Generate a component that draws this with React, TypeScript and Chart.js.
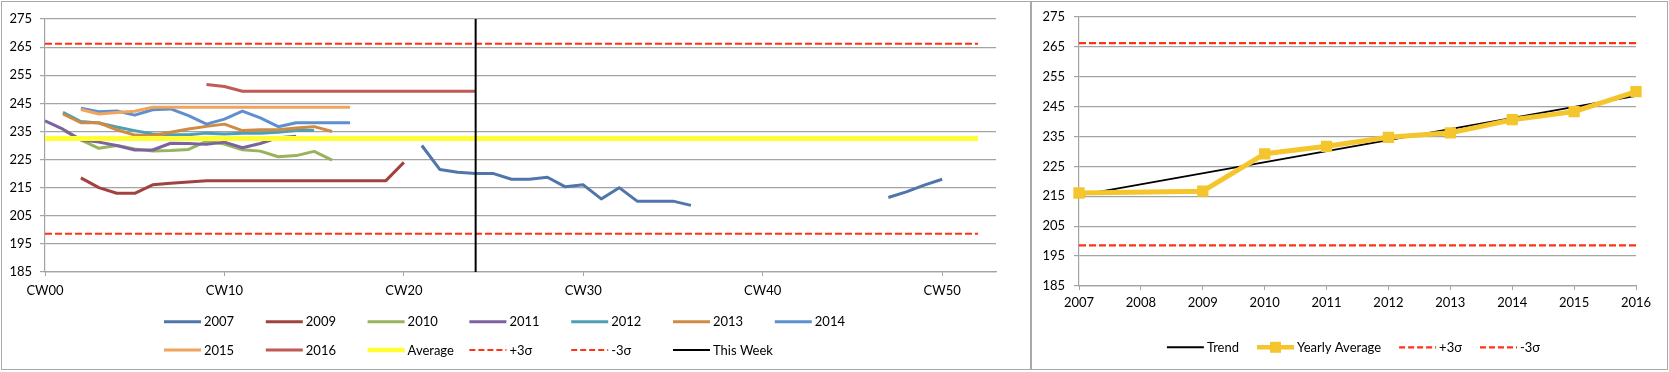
import React, { useEffect, useRef } from 'react';
import { Chart, registerables } from 'chart.js';

Chart.register(...registerables);

const FONT_FAMILY = 'Lato, "Liberation Sans", sans-serif';
const FONT_SIZE = 13;
Chart.defaults.font.family = FONT_FAMILY;
Chart.defaults.font.size = FONT_SIZE;
Chart.defaults.color = '#000';

// ---------------- Weekly chart data (left) ----------------
const WEEK_MIN = 0;
const WEEK_MAX = 53;
const WEEK_TICK_STEP = 10;
const VALUE_MIN = 185;
const VALUE_MAX = 275;
const VALUE_STEP = 10;

const Y2007_START_A = 21;
const Y2007_A = [230, 221.5, 220.5, 220, 220, 218, 218, 218.7, 215.3, 216, 211, 215, 210.2, 210.2, 210.2, 208.7];
const Y2007_START_B = 47;
const Y2007_B = [211.5, 213.5, 215.9, 218];

const Y2009_START = 2;
const Y2009 = [218.5, 215, 213, 213, 216, 216.6, 217, 217.5, 217.5, 217.5, 217.5, 217.5, 217.5, 217.5, 217.5, 217.5, 217.5, 217.5, 224];

const Y2010_START = 1;
const Y2010 = [235.5, 232, 229, 230, 228.8, 228, 228.2, 228.6, 231.5, 230.5, 228.5, 228, 226, 226.4, 227.9, 224.8];

const Y2011_START = 0;
const Y2011 = [238.8, 235.8, 232, 231.2, 230, 228.4, 228.4, 230.8, 230.7, 230.4, 231.2, 229.2, 230.7, 232.8, 233.3];

const Y2012_START = 1;
const Y2012 = [241.8, 238.5, 238, 236.6, 235.3, 234.1, 233.8, 233.8, 234.4, 234.1, 234.4, 234.4, 234.7, 235.3, 235.3];

const Y2013_START = 1;
const Y2013 = [241.2, 238.1, 238.1, 235.6, 233.7, 233.5, 234.7, 235.9, 236.8, 237.6, 235.3, 235.6, 235.6, 236.2, 236.7, 235];

const Y2014_START = 2;
const Y2014 = [243.3, 242, 242.3, 240.8, 242.7, 243, 240.6, 237.6, 239.4, 242.2, 239.8, 236.7, 238.1, 238.1, 238.1, 238.1];

const Y2015_START = 2;
const Y2015 = [242.8, 241.2, 241.7, 242.2, 243.6, 243.6, 243.6, 243.6, 243.6, 243.6, 243.6, 243.6, 243.6, 243.6, 243.6, 243.6];

const Y2016_START = 9;
const Y2016 = [251.7, 251, 249.3, 249.3, 249.3, 249.3, 249.3, 249.3, 249.3, 249.3, 249.3, 249.3, 249.3, 249.3, 249.3, 249.3];

const AVERAGE = 232.5;
const PLUS_3S = 266.2;
const MINUS_3S = 198.6;
const REF_LINE_WEEKS = [0, 52];
const THIS_WEEK = 24;

// ---------------- Yearly chart data (right) ----------------
const YEARS = ['2007', '2008', '2009', '2010', '2011', '2012', '2013', '2014', '2015', '2016'];
const YEARLY_AVERAGE = [216.1, null, 216.7, 229.2, 231.7, 234.7, 236.2, 240.6, 243.3, 250.0];
const TREND = [215.3, null, null, null, null, null, null, null, null, 248.6];

// ---------------- styles ----------------
const C = {
  y2007: '#4F75AA',
  y2009: '#A0433F',
  y2010: '#97B35B',
  y2011: '#7D62A0',
  y2012: '#4E9FB6',
  y2013: '#CF8A43',
  y2014: '#5E90CF',
  y2015: '#F0A45E',
  y2016: '#C05A55',
  avg: '#FFFF33',
  sigma: '#FF3312',
  week: '#000000',
  grid: '#A3A3A3',
  gold: '#F5C52E',
};
const SERIES_W = 3;
const DASH = [7, 3];

const seg = (start: number, vals: (number | null)[]) => vals.map((v, i) => ({ x: start + i, y: v }));

type LegendItem = { label: string; color: string; width: number; dash?: number[]; marker?: boolean };
type LegendLayout =
  | { mode: 'grid'; x0: number; colWidth: number; perRow: number; rowYs: number[] }
  | { mode: 'flow'; centerX: number; y: number; gap: number };

const SAMPLE_LEN = 37;
const TEXT_GAP = 3;

function makeLegend(items: LegendItem[], layout: LegendLayout) {
  return {
    id: 'customLegend',
    afterDraw(chart: any) {
      const ctx: CanvasRenderingContext2D = chart.ctx;
      ctx.save();
      ctx.font = `${FONT_SIZE}px ${FONT_FAMILY}`;
      ctx.textBaseline = 'middle';
      ctx.textAlign = 'left';
      const draw = (it: LegendItem, x: number, y: number) => {
        ctx.save();
        ctx.strokeStyle = it.color;
        ctx.lineWidth = it.width;
        ctx.setLineDash(it.dash || []);
        ctx.beginPath();
        ctx.moveTo(x, y);
        ctx.lineTo(x + SAMPLE_LEN, y);
        ctx.stroke();
        if (it.marker) {
          ctx.fillStyle = it.color;
          ctx.fillRect(x + SAMPLE_LEN / 2 - 5.5, y - 5.5, 11, 11);
        }
        ctx.restore();
        ctx.fillStyle = '#000';
        ctx.fillText(it.label, x + SAMPLE_LEN + TEXT_GAP, y + 0.5);
      };
      if (layout.mode === 'grid') {
        items.forEach((it, i) => {
          const r = Math.floor(i / layout.perRow);
          const c = i % layout.perRow;
          draw(it, layout.x0 + c * layout.colWidth, layout.rowYs[r]);
        });
      } else {
        const widths = items.map((it) => SAMPLE_LEN + TEXT_GAP + ctx.measureText(it.label).width);
        const total = widths.reduce((a, b) => a + b, 0) + layout.gap * (items.length - 1);
        let x = layout.centerX - total / 2;
        items.forEach((it, i) => {
          draw(it, x, layout.y);
          x += widths[i] + layout.gap;
        });
      }
      ctx.restore();
    },
  };
}

function yScale(width: number, padding: number) {
  return {
    min: VALUE_MIN,
    max: VALUE_MAX,
    ticks: { stepSize: VALUE_STEP, padding, color: '#000', font: { size: FONT_SIZE } },
    grid: { color: C.grid, lineWidth: 1.2, tickLength: 5, tickColor: C.grid },
    border: { color: C.grid, width: 1.2 },
    afterFit(s: any) {
      s.width = width;
    },
  };
}

function weeklyConfig(): any {
  const line = (label: string, color: string, data: any[], order: number, extra: any = {}) => ({
    label,
    data,
    borderColor: color,
    backgroundColor: color,
    borderWidth: SERIES_W,
    pointRadius: 0,
    tension: 0,
    borderJoinStyle: 'round',
    order,
    ...extra,
  });
  const datasets = [
    line('This Week', C.week, [{ x: THIS_WEEK, y: VALUE_MIN }, { x: THIS_WEEK, y: VALUE_MAX }], 0, { borderWidth: 2 }),
    line('+3σ', C.sigma, REF_LINE_WEEKS.map((w) => ({ x: w, y: PLUS_3S })), 1, { borderWidth: 2.2, borderDash: DASH }),
    line('-3σ', C.sigma, REF_LINE_WEEKS.map((w) => ({ x: w, y: MINUS_3S })), 2, { borderWidth: 2.2, borderDash: DASH }),
    line('Average', C.avg, REF_LINE_WEEKS.map((w) => ({ x: w, y: AVERAGE })), 3, { borderWidth: 5 }),
    line('2016', C.y2016, seg(Y2016_START, Y2016), 4),
    line('2015', C.y2015, seg(Y2015_START, Y2015), 5),
    line('2014', C.y2014, seg(Y2014_START, Y2014), 6),
    line('2013', C.y2013, seg(Y2013_START, Y2013), 7),
    line('2012', C.y2012, seg(Y2012_START, Y2012), 8),
    line('2011', C.y2011, seg(Y2011_START, Y2011), 9),
    line('2010', C.y2010, seg(Y2010_START, Y2010), 10),
    line('2009', C.y2009, seg(Y2009_START, Y2009), 11),
    line(
      '2007',
      C.y2007,
      [...seg(Y2007_START_A, Y2007_A), { x: Y2007_START_A + Y2007_A.length, y: null }, ...seg(Y2007_START_B, Y2007_B)],
      12
    ),
  ];
  const legendItems: LegendItem[] = [
    { label: '2007', color: C.y2007, width: 3 },
    { label: '2009', color: C.y2009, width: 3 },
    { label: '2010', color: C.y2010, width: 3 },
    { label: '2011', color: C.y2011, width: 3 },
    { label: '2012', color: C.y2012, width: 3 },
    { label: '2013', color: C.y2013, width: 3 },
    { label: '2014', color: C.y2014, width: 3 },
    { label: '2015', color: C.y2015, width: 3 },
    { label: '2016', color: C.y2016, width: 3 },
    { label: 'Average', color: C.avg, width: 4.5 },
    { label: '+3σ', color: C.sigma, width: 2.2, dash: [6, 3] },
    { label: '-3σ', color: C.sigma, width: 2.2, dash: [6, 3] },
    { label: 'This Week', color: C.week, width: 2 },
  ];
  return {
    type: 'line',
    data: { datasets },
    options: {
      responsive: false,
      animation: false,
      events: [],
      layout: { padding: { left: 0, top: 19, right: 34, bottom: 0 } },
      plugins: { legend: { display: false }, tooltip: { enabled: false } },
      scales: {
        x: {
          type: 'linear',
          min: WEEK_MIN,
          max: WEEK_MAX,
          ticks: {
            stepSize: WEEK_TICK_STEP,
            padding: 7,
            maxRotation: 0,
            autoSkip: false,
            color: '#000',
            callback: (v: number) => 'CW' + String(v).padStart(2, '0'),
          },
          grid: { drawOnChartArea: false, drawTicks: true, tickLength: 4, color: C.grid, tickColor: C.grid },
          border: { color: C.grid, width: 1.2 },
          afterBuildTicks(s: any) {
            s.ticks = s.ticks.filter((t: any) => t.value % WEEK_TICK_STEP === 0);
          },
          afterFit(s: any) {
            s.height = 100;
          },
        },
        y: yScale(45, 8),
      },
    },
    plugins: [makeLegend(legendItems, { mode: 'grid', x0: 164, colWidth: 101.8, perRow: 7, rowYs: [321.7, 350] })],
  };
}

function yearlyConfig(): any {
  const datasets = [
    {
      label: 'Yearly Average',
      data: YEARLY_AVERAGE,
      borderColor: C.gold,
      backgroundColor: C.gold,
      borderWidth: 5,
      spanGaps: true,
      tension: 0,
      pointStyle: 'rect',
      pointRadius: 8,
      pointBackgroundColor: C.gold,
      pointBorderColor: C.gold,
      pointBorderWidth: 0,
      borderJoinStyle: 'round',
      order: 0,
    },
    {
      label: 'Trend',
      data: TREND,
      borderColor: '#000',
      borderWidth: 1.8,
      spanGaps: true,
      pointRadius: 0,
      order: 1,
    },
    {
      label: '+3σ',
      data: YEARS.map(() => PLUS_3S),
      borderColor: C.sigma,
      borderWidth: 2.2,
      borderDash: DASH,
      pointRadius: 0,
      order: 2,
    },
    {
      label: '-3σ',
      data: YEARS.map(() => MINUS_3S),
      borderColor: C.sigma,
      borderWidth: 2.2,
      borderDash: DASH,
      pointRadius: 0,
      order: 3,
    },
  ];
  const legendItems: LegendItem[] = [
    { label: 'Trend', color: '#000', width: 2 },
    { label: 'Yearly Average', color: C.gold, width: 4.5, marker: true },
    { label: '+3σ', color: C.sigma, width: 2.2, dash: [6, 3] },
    { label: '-3σ', color: C.sigma, width: 2.2, dash: [6, 3] },
  ];
  return {
    type: 'line',
    data: { labels: YEARS, datasets },
    options: {
      responsive: false,
      animation: false,
      events: [],
      layout: { padding: { left: 0, top: 15, right: 33, bottom: 0 } },
      plugins: { legend: { display: false }, tooltip: { enabled: false } },
      scales: {
        x: {
          type: 'category',
          offset: false,
          ticks: { padding: 5, maxRotation: 0, autoSkip: false, color: '#000' },
          grid: { drawOnChartArea: false, drawTicks: true, tickLength: 4, color: C.grid, tickColor: C.grid },
          border: { color: C.grid, width: 1.2 },
          afterFit(s: any) {
            s.height = 86;
          },
        },
        y: yScale(48, 9),
      },
    },
    plugins: [makeLegend(legendItems, { mode: 'flow', centerX: 322.5, y: 347.3, gap: 18 })],
  };
}

function ChartCanvas(props: { left: number; top: number; width: number; height: number; build: () => any }) {
  const ref = useRef<HTMLCanvasElement>(null);
  useEffect(() => {
    const chart = new Chart(ref.current as HTMLCanvasElement, props.build());
    return () => chart.destroy();
  }, []);
  return (
    <canvas
      ref={ref}
      width={props.width}
      height={props.height}
      style={{ position: 'absolute', left: props.left, top: props.top, width: props.width, height: props.height }}
    />
  );
}

export default function App() {
  const panel = (left: number, width: number) => ({
    position: 'absolute' as const,
    left,
    top: 1,
    width,
    height: 369,
    border: '1px solid #A9A9A9',
    boxSizing: 'border-box' as const,
    background: '#fff',
  });
  return (
    <div style={{ position: 'absolute', left: 0, top: 0, width: 1669, height: 372, background: '#fff', overflow: 'hidden' }}>
      <div style={panel(1, 1030)} />
      <div style={panel(1031, 637)} />
      <ChartCanvas left={0} top={0} width={1030} height={372} build={weeklyConfig} />
      <ChartCanvas left={1031} top={0} width={638} height={372} build={yearlyConfig} />
    </div>
  );
}
